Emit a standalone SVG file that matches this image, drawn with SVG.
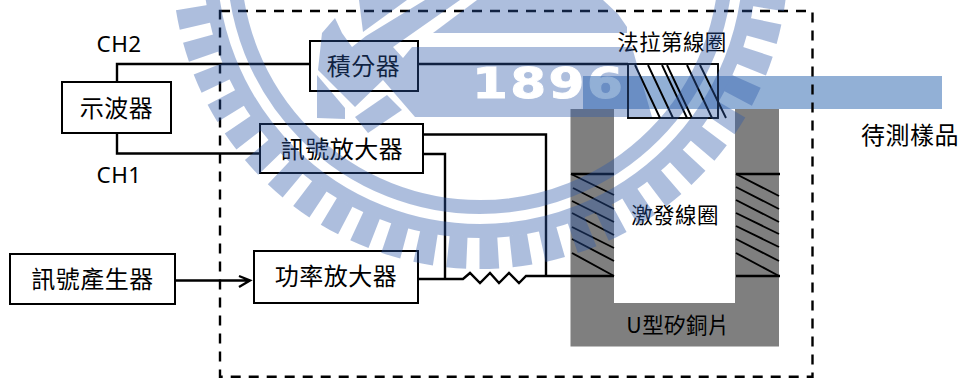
<svg xmlns="http://www.w3.org/2000/svg" width="960" height="378" viewBox="0 0 960 378">
<style>
.box{fill:#fff;stroke:#000;stroke-width:2}
.wire{fill:none;stroke:#000;stroke-width:2.4}
.thin{fill:none;stroke:#000;stroke-width:1.9}
.dash{fill:none;stroke:#000;stroke-width:2.4;stroke-dasharray:10 8}
.cjk{font-family:"Noto Sans CJK TC","Noto Sans CJK SC",sans-serif;font-size:24px;letter-spacing:.5px;text-anchor:middle;fill:#000}
.small{font-size:21.500px;letter-spacing:.4px}
.lat{font-family:"Noto Sans",sans-serif;font-size:22.500px;letter-spacing:.4px;text-anchor:middle;fill:#000}
</style>
<defs>
<mask id="wm" maskUnits="userSpaceOnUse" x="0" y="0" width="960" height="378">
<rect width="960" height="378" fill="#fff"/>
<text transform="translate(472 98) scale(1.2 1)" font-family="DejaVu Sans, sans-serif" font-weight="700" font-size="43" letter-spacing="2" fill="#000" stroke="#000" stroke-width="1">1896</text>
</mask>
</defs>
<rect width="960" height="378" fill="#fff"/>
<g id="core">
<rect x="570.5" y="109" width="208.500" height="237.500" fill="#7f7f7f"/>
<rect x="614" y="109" width="121" height="194" fill="#fff"/>
<text class="cjk small" x="678" y="332.500">U型矽銅片</text>
<text class="cjk small" x="675" y="222.500">激發線圈</text>
</g>
<rect id="sample" x="583" y="76" width="359" height="33" fill="#92b0d6"/>
<text id="sample-label" class="cjk" x="910" y="144">待測樣品</text>
<rect id="border" class="dash" x="220" y="11" width="592.500" height="365.700"/>
<g id="connectors">
<path class="wire" d="M117 82V64H310"/>
<path class="wire" d="M117 133V153.500H260"/>
<path class="wire" d="M423 134.500H546V276"/>
<path class="wire" d="M423 154H445V279"/>
<path class="wire" d="M418 279H463L470 273L480 283L490 273L499 283L509 273L519 283L526 276H571"/>
<path class="wire" d="M175 280.500H249M239 276L250 280.500L239 287"/>
<path class="wire" d="M418 64H628"/>
</g>
<g id="faraday-coil">
<rect class="thin" x="628" y="64" width="90" height="54" fill="none"/>
<path class="thin" d="M635 65L660 118M648 65L673 118M662 65L687 118M667 65L692 118M687 65L712 118M700 65L726 118"/>
<text class="cjk small" x="672" y="49.500">法拉第線圈</text>
</g>
<g id="excite-coil">
<path class="wire" d="M571 174H614M736 174H780M571 276H614M736 276H780"/>
<path class="thin" d="M571 174L614 195M573 188L614 209M572 201L614 222M572 213L614 235M572 227L614 248M572 239L614 261M572 253L614 276"/>
<path class="thin" d="M736 174L779 196M736 187L779 209M736 200L779 222M736 213L779 234M736 226L779 247M736 239L779 261M736 253L779 276"/>
</g>
<g id="scope"><rect class="box" x="62" y="82" width="109" height="51"/><text class="cjk" x="116.500" y="116.500">示波器</text></g>
<g id="integrator"><rect class="box" x="310" y="41" width="108" height="50"/><text class="cjk" x="363.500" y="74.500">積分器</text></g>
<g id="signal-amp"><rect class="box" x="260" y="124" width="163" height="49"/><text class="cjk" x="342" y="157.500">訊號放大器</text></g>
<g id="generator"><rect class="box" x="10" y="254" width="165" height="50"/><text class="cjk" x="92.500" y="288">訊號產生器</text></g>
<g id="power-amp"><rect class="box" x="254" y="251" width="164" height="52"/><text class="cjk" x="336" y="285">功率放大器</text></g>
<text id="ch2" class="lat" x="119" y="52">CH2</text>
<text id="ch1" class="lat" x="119" y="183">CH1</text>
<g id="seal" mask="url(#wm)" opacity="0.386" fill="#2d59a9">
<circle cx="480" cy="-39" r="246" fill="none" stroke="#2d59a9" stroke-width="14"/>
<circle cx="480" cy="-39" r="270" fill="none" stroke="#2d59a9" stroke-width="14"/>
<circle cx="480" cy="-39" r="292" fill="none" stroke="#2d59a9" stroke-width="32" pathLength="360" stroke-dasharray="3.7 2.507" stroke-dashoffset="-5.71"/>
<polygon points="335,18 342,33 352,47 366,36 425,0 460,0 393,47 403,58 412,47 632,47 652,117 415,117 383,80 355,107 318,70 322,33"/>
<polygon points="317,75 345,108 345,119 317,118"/>
<polygon points="355,117 387,95 402,110 368,133"/>
<polygon points="359,0 363,32 407,0"/>
<polygon points="433,33 477,0 603,0 618,14 627,27 627,33"/>
</g>
</svg>
